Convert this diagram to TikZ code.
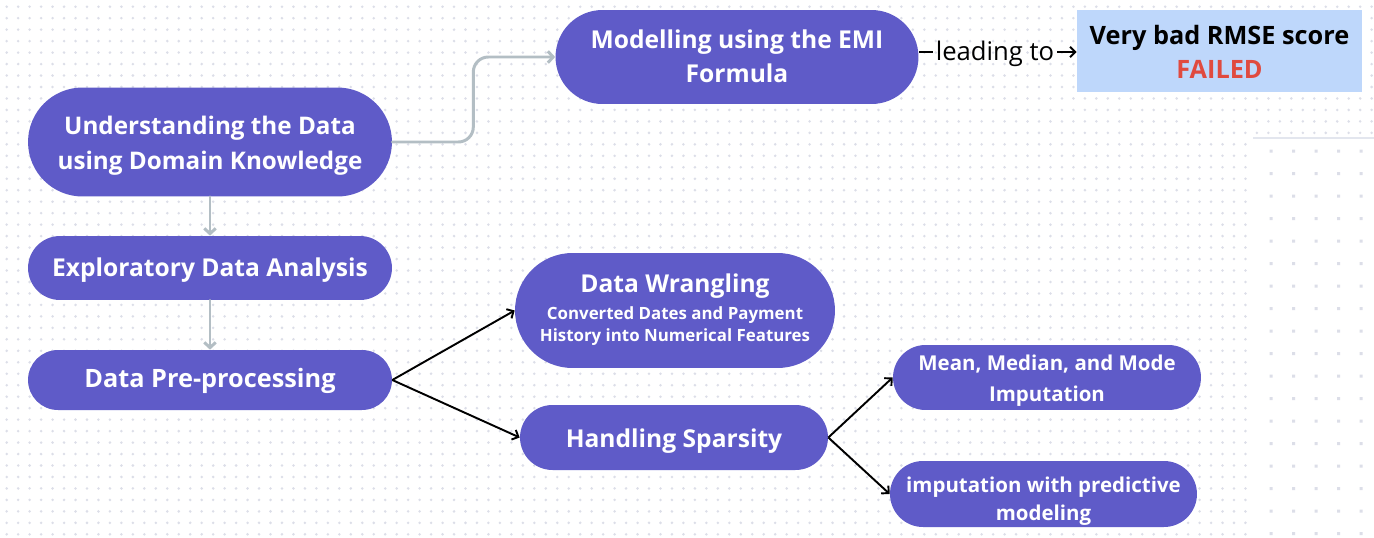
\documentclass[tikz,border=0pt]{standalone}
\usepackage{fontspec}
\setmainfont{Open Sans}
\usetikzlibrary{arrows.meta}
\definecolor{pill}{HTML}{5F5BC8}
\definecolor{grayarr}{HTML}{B3BEC4}
\definecolor{dotc}{HTML}{DCDEE8}
\definecolor{boxc}{HTML}{BED7FB}
\definecolor{failc}{HTML}{E04A3F}
\definecolor{sepc}{HTML}{E3E6EE}
\begin{document}
\begin{tikzpicture}[x=0.02cm,y=-0.02cm,
  pillnode/.style={fill=pill, text=white, inner sep=0pt},
  txt/.style={text=white, font=\bfseries\fontsize{13.8}{19.4}\selectfont, align=center, inner sep=0pt, anchor=base},
  garrow/.style={draw=grayarr, line width=1.7pt, line cap=round, rounded corners=0.3cm,
    -{Straight Barb[length=3pt,width=6.5pt,line width=1.7pt]}},
  barrow/.style={draw=black, line width=1.1pt,
    -{Straight Barb[length=3pt,width=6pt,line width=1.1pt]}},
]
\useasboundingbox (0,0) rectangle (1374,538);
\fill[white] (0,0) rectangle (1374,538);
% dot grid
\foreach \j in {0,...,11} { \fill[dotc] \foreach \i in {0,...,119} { (6.7+\i*11.47, 6.7+\j*11.47) circle[radius=0.8pt] }; }
\foreach \j in {12,...,46} { \fill[dotc] \foreach \i in {0,...,108} { (6.7+\i*11.47, 6.7+\j*11.47) circle[radius=0.8pt] }; }
\foreach \j in {0,...,17} { \fill[dotc] \foreach \i in {0,...,4} { (1269.5+\i*22.5, 149.5+\j*22.5) rectangle ++(3,3) }; }
\draw[sepc, line width=0.6pt] (1253,138) -- (1374,138);

% nodes (multi-line texts are placed by the baseline of their last line)
\node[pillnode, minimum width=7.28cm, minimum height=2.18cm, rounded corners=1.09cm] (und) at (210,142) {};
\node[txt] at (210,169) {Understanding the Data\\using Domain Knowledge};
\node[pillnode, minimum width=7.28cm, minimum height=1.28cm, rounded corners=0.64cm] (eda) at (210,268) {};
\node[txt, font=\bfseries\fontsize{14}{19}\selectfont] at (210,276.3) {Exploratory Data Analysis};
\node[pillnode, minimum width=7.28cm, minimum height=1.20cm, rounded corners=0.60cm] (pre) at (210,380) {};
\node[txt, font=\bfseries\fontsize{14.4}{19}\selectfont] at (210,387.7) {Data Pre-processing};
\node[pillnode, minimum width=7.26cm, minimum height=1.88cm, rounded corners=0.94cm] (emi) at (737,57) {};
\node[txt, font=\bfseries\fontsize{14}{18.9}\selectfont] at (737,82) {Modelling using the EMI\\Formula};
\node[fill=boxc, minimum width=5.70cm, minimum height=1.64cm, inner sep=0pt] (res) at (1219.5,51) {};
\node[txt, text=black, font=\bfseries\fontsize{14.4}{19.3}\selectfont] at (1219.5,78.3) {Very bad RMSE score\\\textcolor{failc}{FAILED}};
\node[pillnode, minimum width=6.40cm, minimum height=2.30cm, rounded corners=1.15cm] (wr) at (675,310.5) {};
\node[txt, font=\bfseries\fontsize{9.6}{12.9}\selectfont] at (675,341.7) {{\fontsize{14}{16}\selectfont Data Wrangling}\\[2.4pt]Converted Dates and Payment\\History into Numerical Features};
\node[pillnode, minimum width=6.16cm, minimum height=1.30cm, rounded corners=0.65cm] (sp) at (674,437.5) {};
\node[txt, font=\bfseries\fontsize{14}{19}\selectfont] at (674,447.7) {Handling Sparsity};
\node[pillnode, minimum width=6.16cm, minimum height=1.30cm, rounded corners=0.65cm] (mean) at (1047,377.5) {};
\node[txt, font=\bfseries\fontsize{11.65}{17.2}\selectfont] at (1047,401) {Mean, Median, and Mode\\Imputation};
\node[pillnode, minimum width=6.14cm, minimum height=1.32cm, rounded corners=0.66cm] (pred) at (1043.5,494) {};
\node[txt, font=\bfseries\fontsize{11.65}{15.9}\selectfont] at (1043.5,520.7) {imputation with predictive\\modeling};
\node[font=\fontsize{14.6}{16}\selectfont, inner sep=1.5pt, anchor=base] (lt) at (995,60) {leading to};
\coordinate (ly) at (995,52);

% connectors
\draw[garrow] (und.east) -- ++(81,0) |- (emi.west);
\draw[garrow] (und.south) -- (eda.north);
\draw[garrow] (eda.south) -- (pre.north);
\draw[barrow] (pre.east) -- (wr.west);
\draw[barrow] (pre.east) -- (sp.west);
\draw[barrow] (sp.east) -- (mean.west);
\draw[barrow] (sp.east) -- (pred.west);
\draw[line width=1.1pt] (emi.east |- ly) -- (lt.west |- ly);
\draw[barrow] (lt.east |- ly) -- (res.west |- ly);
\end{tikzpicture}
\end{document}
